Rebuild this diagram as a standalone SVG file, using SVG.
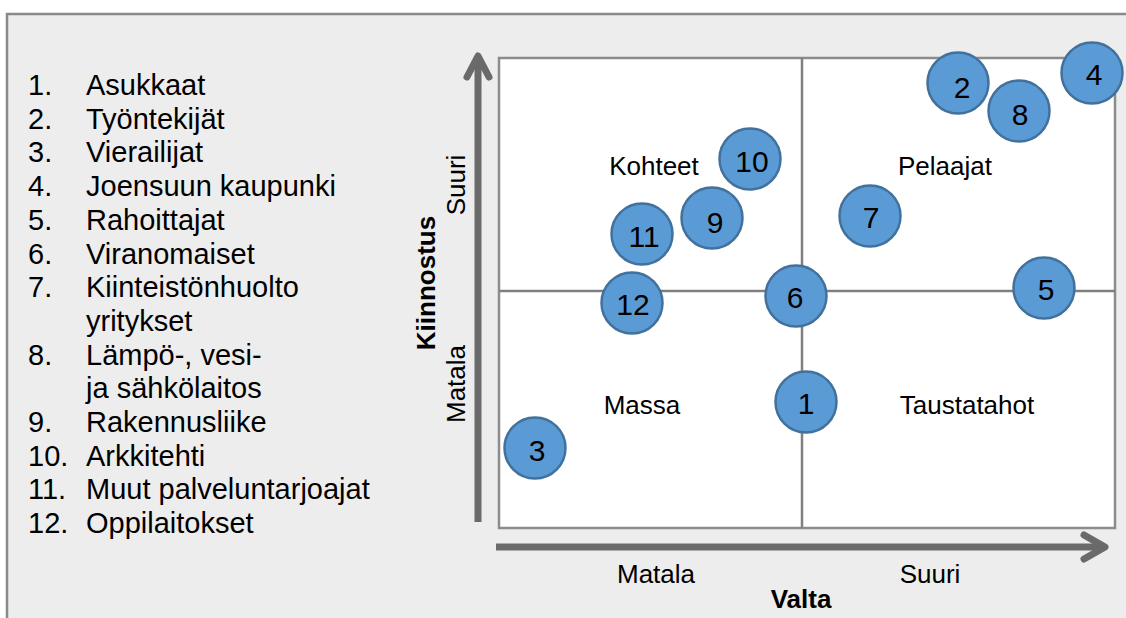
<svg xmlns="http://www.w3.org/2000/svg" width="1126" height="618" viewBox="0 0 1126 618">
  <style>
    .txt { font-family: "Liberation Sans", Arial, sans-serif; fill: #000; }
    .list { font-size: 29px; }
    .lbl { font-size: 26px; }
    .bold { font-size: 26px; font-weight: bold; }
    .num { font-size: 30px; text-anchor: middle; }
    .node circle { fill: #5b9bd5; stroke: #41719c; stroke-width: 2.5; }
    .axis { stroke: #6a6a6a; stroke-width: 7; fill: none; }
    .head { stroke: #6a6a6a; stroke-width: 7; fill: none; stroke-linecap: round; stroke-linejoin: round; }
    .cross { stroke: #808080; stroke-width: 2.5; }
  </style>

  <!-- outer panel -->
  <rect x="0" y="0" width="1126" height="618" fill="#ffffff"/>
  <rect x="7" y="14" width="1130" height="620" fill="#ededed" stroke="#8a8a8a" stroke-width="2.5"/>

  <!-- legend list -->
  <g id="legend" class="txt list">
    <text x="28" y="95">1.</text><text x="86" y="95">Asukkaat</text>
    <text x="28" y="128.7">2.</text><text x="86" y="128.7">Työntekijät</text>
    <text x="28" y="162.4">3.</text><text x="86" y="162.4">Vierailijat</text>
    <text x="28" y="196.1">4.</text><text x="86" y="196.1">Joensuun kaupunki</text>
    <text x="28" y="229.8">5.</text><text x="86" y="229.8">Rahoittajat</text>
    <text x="28" y="263.5">6.</text><text x="86" y="263.5">Viranomaiset</text>
    <text x="28" y="297.2">7.</text><text x="86" y="297.2">Kiinteistönhuolto</text>
    <text x="86" y="330.9">yritykset</text>
    <text x="28" y="364.6">8.</text><text x="86" y="364.6">Lämpö-, vesi-</text>
    <text x="86" y="398.3">ja sähkölaitos</text>
    <text x="28" y="432">9.</text><text x="86" y="432">Rakennusliike</text>
    <text x="28" y="465.7">10.</text><text x="86" y="465.7">Arkkitehti</text>
    <text x="28" y="499.4">11.</text><text x="86" y="499.4">Muut palveluntarjoajat</text>
    <text x="28" y="533.1">12.</text><text x="86" y="533.1">Oppilaitokset</text>
  </g>

  <!-- matrix area -->
  <g id="matrix">
    <rect x="499" y="58" width="616" height="470" fill="#ffffff" stroke="#8c8c8c" stroke-width="2.5"/>
    <line class="cross" x1="802" y1="58" x2="802" y2="528"/>
    <line class="cross" x1="499" y1="291" x2="1115" y2="291"/>
  </g>

  <!-- axes -->
  <g id="connectors">
    <line class="axis" x1="478" y1="522" x2="478" y2="58"/>
    <polyline class="head" points="467,77 478,56 489,77"/>
    <line class="axis" x1="496" y1="547" x2="1103" y2="547"/>
    <polyline class="head" points="1084,535 1105,547 1084,559"/>
  </g>

  <!-- quadrant labels -->
  <g id="quadrants" class="txt lbl" text-anchor="middle">
    <text x="654" y="175">Kohteet</text>
    <text x="945" y="175">Pelaajat</text>
    <text x="642" y="414">Massa</text>
    <text x="967" y="414">Taustatahot</text>
  </g>

  <!-- axis labels -->
  <g id="axis-labels" class="txt" text-anchor="middle">
    <text class="lbl" x="656" y="583">Matala</text>
    <text class="lbl" x="930" y="583">Suuri</text>
    <text class="bold" x="801" y="608">Valta</text>
    <text class="lbl" transform="translate(465,185) rotate(-90)">Suuri</text>
    <text class="lbl" transform="translate(465,384) rotate(-90)">Matala</text>
    <text class="bold" transform="translate(435,283) rotate(-90)">Kiinnostus</text>
  </g>

  <!-- stakeholder nodes -->
  <g id="n1" class="node"><circle cx="806" cy="402" r="30.5"/><text class="txt num" x="806" y="414">1</text></g>
  <g id="n2" class="node"><circle cx="958" cy="83" r="30.5"/><text class="txt num" x="962" y="98">2</text></g>
  <g id="n3" class="node"><circle cx="535" cy="448" r="30.5"/><text class="txt num" x="537" y="461">3</text></g>
  <g id="n4" class="node"><circle cx="1092" cy="73" r="30.5"/><text class="txt num" x="1094" y="85">4</text></g>
  <g id="n5" class="node"><circle cx="1044" cy="288" r="30.5"/><text class="txt num" x="1046" y="300">5</text></g>
  <g id="n6" class="node"><circle cx="796" cy="296" r="30.5"/><text class="txt num" x="795" y="308">6</text></g>
  <g id="n7" class="node"><circle cx="870" cy="216" r="30.5"/><text class="txt num" x="871" y="228">7</text></g>
  <g id="n8" class="node"><circle cx="1019" cy="111" r="30.5"/><text class="txt num" x="1020" y="125">8</text></g>
  <g id="n9" class="node"><circle cx="712" cy="218" r="30.5"/><text class="txt num" x="715" y="233">9</text></g>
  <g id="n10" class="node"><circle cx="750" cy="159" r="30.5"/><text class="txt num" x="752" y="172">10</text></g>
  <g id="n11" class="node"><circle cx="642" cy="234" r="30.5"/><text class="txt num" x="644" y="247">11</text></g>
  <g id="n12" class="node"><circle cx="632" cy="303" r="30.5"/><text class="txt num" x="633" y="315">12</text></g>
</svg>
